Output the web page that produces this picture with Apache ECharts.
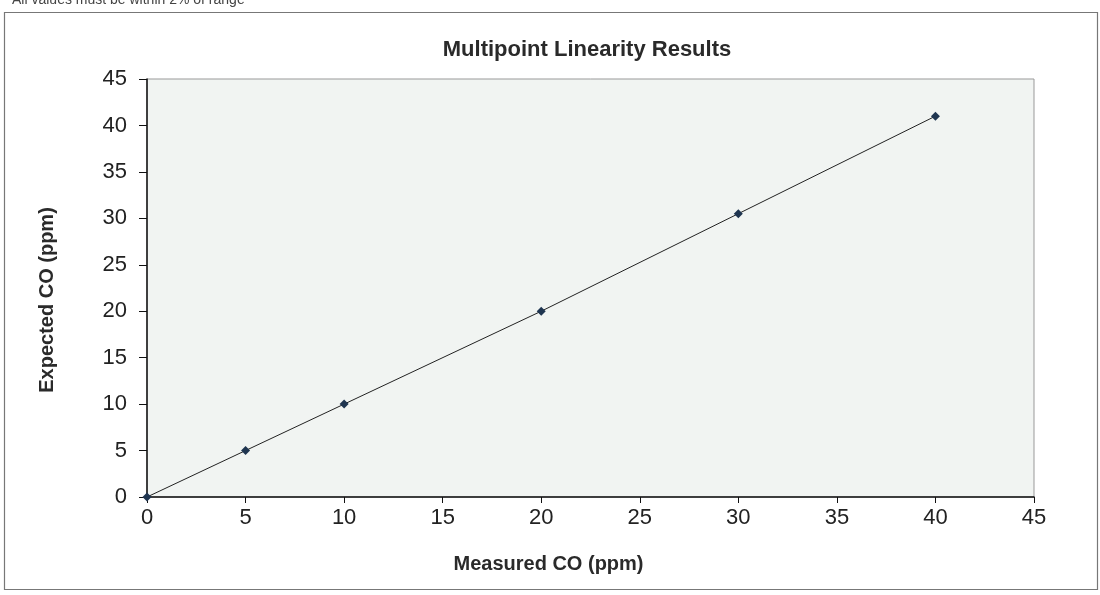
<!DOCTYPE html>
<html>
<head>
<meta charset="utf-8">
<script src="https://cdn.jsdelivr.net/npm/echarts@6/dist/echarts.min.js"></script>
<style>
  html, body { margin: 0; padding: 0; background: #fff; }
  #main { width: 1100px; height: 595px; }
</style>
</head>
<body>
<div id="main"></div>
<script>
// measured vs expected CO readings
var measured = [0, 5, 10, 20, 30, 40];
var expected = [0, 5, 10, 20, 30.5, 41];
var axisTicks = [0, 5, 10, 15, 20, 25, 30, 35, 40, 45];

var points = measured.map(function (m, i) { return [m, expected[i]]; });

var chart = echarts.init(document.getElementById('main'));

var font = 'Liberation Sans, Arial, sans-serif';

chart.setOption({
    animation: false,
    backgroundColor: '#fff',
    title: {
        text: 'Multipoint Linearity Results',
        left: 582,
        textAlign: 'center',
        top: 34,
        textStyle: { fontFamily: font, fontSize: 22, fontWeight: 'bold', color: '#2a2a2a' }
    },
    graphic: [
        {
            type: 'text', x: 12, y: -7,
            style: { text: 'All values must be within 2% of range', font: '14px ' + font, fill: '#444' }
        },
        {
            type: 'rect', z: -1,
            shape: { x: 4.5, y: 12.5, width: 1093, height: 577 },
            style: { fill: 'none', stroke: '#777', lineWidth: 1.2 }
        }
    ],
    grid: { left: 147, right: 66, top: 79, bottom: 98, show: true, backgroundColor: '#f1f4f2', borderColor: '#999', borderWidth: 1 },
    xAxis: {
        type: 'value', min: 0, max: 45, interval: 5,
        name: 'Measured CO (ppm)', nameLocation: 'middle', nameGap: 57,
        nameTextStyle: { fontFamily: font, fontSize: 20, fontWeight: 'bold', color: '#2a2a2a', padding: [0, 84, 0, 0] },
        axisLine: { lineStyle: { color: '#111', width: 1.5 } },
        axisTick: { inside: false, length: 6, lineStyle: { color: '#111' } },
        axisLabel: {
            fontFamily: font, fontSize: 22, color: '#222', margin: 10,
            formatter: function (v) { return axisTicks.indexOf(v) >= 0 ? String(v) : ''; }
        },
        splitLine: { show: false }
    },
    yAxis: {
        type: 'value', min: 0, max: 45, interval: 5,
        name: 'Expected CO (ppm)', nameLocation: 'middle', nameGap: 90,
        nameTextStyle: { fontFamily: font, fontSize: 20, fontWeight: 'bold', color: '#2a2a2a', padding: [0, 24, 0, 0] },
        axisLine: { show: true, lineStyle: { color: '#111', width: 1.5 } },
        axisTick: { show: true, length: 8, lineStyle: { color: '#111' } },
        axisLabel: {
            fontFamily: font, fontSize: 22, color: '#222', margin: 20,
            formatter: function (v) { return axisTicks.indexOf(v) >= 0 ? String(v) : ''; }
        },
        splitLine: { show: false }
    },
    series: [
        {
            type: 'line',
            data: points,
            symbol: 'diamond',
            symbolSize: 9,
            showSymbol: true,
            itemStyle: { color: '#1f3550' },
            lineStyle: { color: '#222', width: 1 }
        }
    ]
});
</script>
</body>
</html>
